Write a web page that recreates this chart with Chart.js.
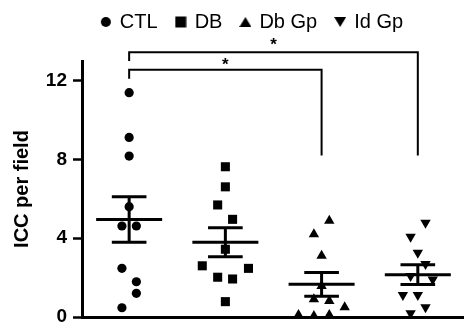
<!DOCTYPE html>
<html>
<head>
<meta charset="utf-8">
<script src="https://cdn.jsdelivr.net/npm/chart.js@4.4.1/dist/chart.umd.min.js"></script>
<style>
html, body { margin: 0; padding: 0; background: #fff; }
#wrap { width: 464px; height: 322px; position: relative; }
</style>
</head>
<body>
<div id="wrap"><canvas id="c"></canvas></div>
<script>
// groups / data
const groups = ['CTL', 'DB', 'Db Gp', 'Id Gp'];
const ctlVals = [11.39, 9.12, 8.17, 5.6, 4.62, 4.62, 2.47, 1.79, 1.2, 0.47];
const ctlJit  = [0, 0, 0, 0, -0.075, 0.075, -0.075, 0.075, 0.075, -0.075];
const dbVals  = [7.63, 6.61, 5.69, 4.96, 3.44, 2.6, 2.47, 2.02, 1.93, 0.78];
const dbJit   = [0, 0, -0.08, 0.075, 0, -0.24, 0.24, -0.08, 0.075, 0];
const dbgVals = [4.89, 4.2, 3.11, 1.57, 0.9, 0.81, 0.49, 0.1, 0.05, 0.1];
const dbgJit  = [0.08, -0.08, 0, 0, -0.08, 0.08, 0.24, -0.24, -0.08, 0.08];
const idgVals = [4.79, 4.08, 3.26, 2.69, 2.08, 1.91, 1.12, 1.12, 0.49, 0.19];
const idgJit  = [0.08, -0.075, 0, 0.08, -0.075, 0.155, -0.155, 0, 0.08, -0.075];

// mean +/- SEM as drawn
const meanVals = [4.95, 3.8, 1.66, 2.15];
const semVals  = [1.155, 0.735, 0.6, 0.5];

const yTicks = [0, 4, 8, 12];

// significance brackets
const brFrom   = [1, 1];
const brTo     = [4, 3];
const brLevel  = [13.45, 12.55];
const brLeftEnd  = [13.0, 12.1];
const brRightEnd = [8.2, 8.2];
const brStarY  = [13.97, 12.96];
const brLabels = ['*', '*'];

function toPoints(vals, jit, g) {
    return vals.map((v, i) => ({ x: g + 1 + jit[i], y: v }));
}

// 圖例用的小圖示 (legend glyphs)
function glyph(kind) {
    const c = document.createElement('canvas');
    c.width = 12; c.height = 12;
    const g = c.getContext('2d');
    g.fillStyle = '#000';
    g.beginPath();
    if (kind === 'circle') {
        g.arc(6, 6, 5, 0, Math.PI * 2);
    } else if (kind === 'rect') {
        g.rect(0.5, 0.5, 11, 11);
    } else {
        g.moveTo(6, 1);
        g.lineTo(12, 11);
        g.lineTo(0, 11);
        g.closePath();
    }
    g.fill();
    return c;
}
const legendGlyphs = [glyph('circle'), glyph('rect'), glyph('tri'), glyph('tri')];

// 平均線 + SEM
const meanSemPlugin = {
    id: 'meanSem',
    afterDatasetsDraw(chart) {
        const { ctx, scales: { x, y } } = chart;
        ctx.save();
        ctx.strokeStyle = '#000';
        ctx.lineWidth = 3;
        ctx.lineCap = 'butt';
        meanVals.forEach((m, i) => {
            const cx = i + 1;
            const hi = y.getPixelForValue(m + semVals[i]);
            const lo = y.getPixelForValue(m - semVals[i]);
            const my = y.getPixelForValue(m);
            ctx.beginPath();
            ctx.moveTo(x.getPixelForValue(cx - 0.343), my);
            ctx.lineTo(x.getPixelForValue(cx + 0.343), my);
            ctx.moveTo(x.getPixelForValue(cx - 0.18), hi);
            ctx.lineTo(x.getPixelForValue(cx + 0.18), hi);
            ctx.moveTo(x.getPixelForValue(cx - 0.18), lo);
            ctx.lineTo(x.getPixelForValue(cx + 0.18), lo);
            ctx.moveTo(x.getPixelForValue(cx), hi);
            ctx.lineTo(x.getPixelForValue(cx), lo);
            ctx.stroke();
        });
        ctx.restore();
    }
};

// 顯著性括號
const bracketPlugin = {
    id: 'brackets',
    afterDraw(chart) {
        const { ctx, scales: { x, y } } = chart;
        ctx.save();
        ctx.strokeStyle = '#000';
        ctx.fillStyle = '#000';
        ctx.lineWidth = 2;
        ctx.font = 'bold 17px "Liberation Sans", Arial, sans-serif';
        ctx.textAlign = 'center';
        ctx.textBaseline = 'alphabetic';
        brFrom.forEach((f, i) => {
            const x1 = x.getPixelForValue(f);
            const x2 = x.getPixelForValue(brTo[i]);
            const yl = y.getPixelForValue(brLevel[i]);
            ctx.beginPath();
            ctx.moveTo(x1, y.getPixelForValue(brLeftEnd[i]));
            ctx.lineTo(x1, yl);
            ctx.lineTo(x2, yl);
            ctx.lineTo(x2, y.getPixelForValue(brRightEnd[i]));
            ctx.stroke();
            const m = ctx.measureText(brLabels[i]);
            const yc = y.getPixelForValue(brStarY[i]);
            ctx.fillText(brLabels[i], (x1 + x2) / 2, yc + (m.actualBoundingBoxAscent - m.actualBoundingBoxDescent) / 2);
        });
        ctx.restore();
    }
};

// 圖例位置微調
const legendShift = {
    id: 'legendShift',
    afterLayout(chart) {
        const lg = chart.legend;
        lg.top -= 19;
        lg.bottom -= 19;
        lg.left = 41;
    }
};

Chart.defaults.font.family = '"Liberation Sans", Arial, sans-serif';
Chart.defaults.color = '#000';

new Chart(document.getElementById('c'), {
    type: 'scatter',
    data: {
        datasets: [
            { label: groups[0], data: toPoints(ctlVals, ctlJit, 0), pointStyle: 'circle', pointRadius: 4.6 },
            { label: groups[1], data: toPoints(dbVals, dbJit, 1), pointStyle: 'rect', pointRadius: 6.4 },
            { label: groups[2], data: toPoints(dbgVals, dbgJit, 2), pointStyle: 'triangle', pointRadius: 6 },
            { label: groups[3], data: toPoints(idgVals, idgJit, 3), pointStyle: 'triangle', pointRadius: 6, pointRotation: 180 },
        ].map(d => Object.assign(d, {
            backgroundColor: '#000',
            pointBackgroundColor: '#000',
            pointBorderWidth: 0,
            borderWidth: 0,
            pointHoverRadius: d.pointRadius,
            clip: false
        }))
    },
    options: {
        responsive: true,
        maintainAspectRatio: false,
        animation: false,
        layout: { autoPadding: false, padding: { top: 12, left: 0, right: 0, bottom: 0 } },
        plugins: {
            legend: {
                position: 'top',
                labels: {
                    usePointStyle: true,
                    boxWidth: 8,
                    boxHeight: 8,
                    padding: 19,
                    color: '#000',
                    font: { size: 20 },
                    generateLabels(chart) {
                        const items = Chart.defaults.plugins.legend.labels.generateLabels(chart);
                        items.forEach((it, i) => { it.pointStyle = legendGlyphs[i]; });
                        return items;
                    }
                }
            },
            tooltip: { enabled: false }
        },
        scales: {
            x: {
                type: 'linear',
                min: 0.51,
                max: 4.48,
                ticks: { display: false },
                grid: { display: false },
                border: { display: true, width: 3, color: '#000' },
                afterFit: s => { s.height = 5; s.paddingLeft = 0; s.paddingRight = 0; }
            },
            y: {
                min: 0,
                max: 13,
                afterBuildTicks: s => { s.ticks = yTicks.map(v => ({ value: v })); },
                afterFit: s => { s.width = 82; s.paddingTop = 0; s.paddingBottom = 0; },
                border: { display: true, width: 3, color: '#000' },
                grid: { display: true, drawOnChartArea: false, drawTicks: true, tickLength: 9, tickWidth: 2.5, tickColor: '#000' },
                ticks: { font: { size: 19, weight: 'bold' }, color: '#000', padding: 6 },
                title: { display: true, text: 'ICC per field', color: '#000', font: { size: 20, weight: 'bold' }, padding: { top: 10, bottom: 0 } }
            }
        }
    },
    plugins: [meanSemPlugin, bracketPlugin, legendShift]
});
</script>
</body>
</html>
